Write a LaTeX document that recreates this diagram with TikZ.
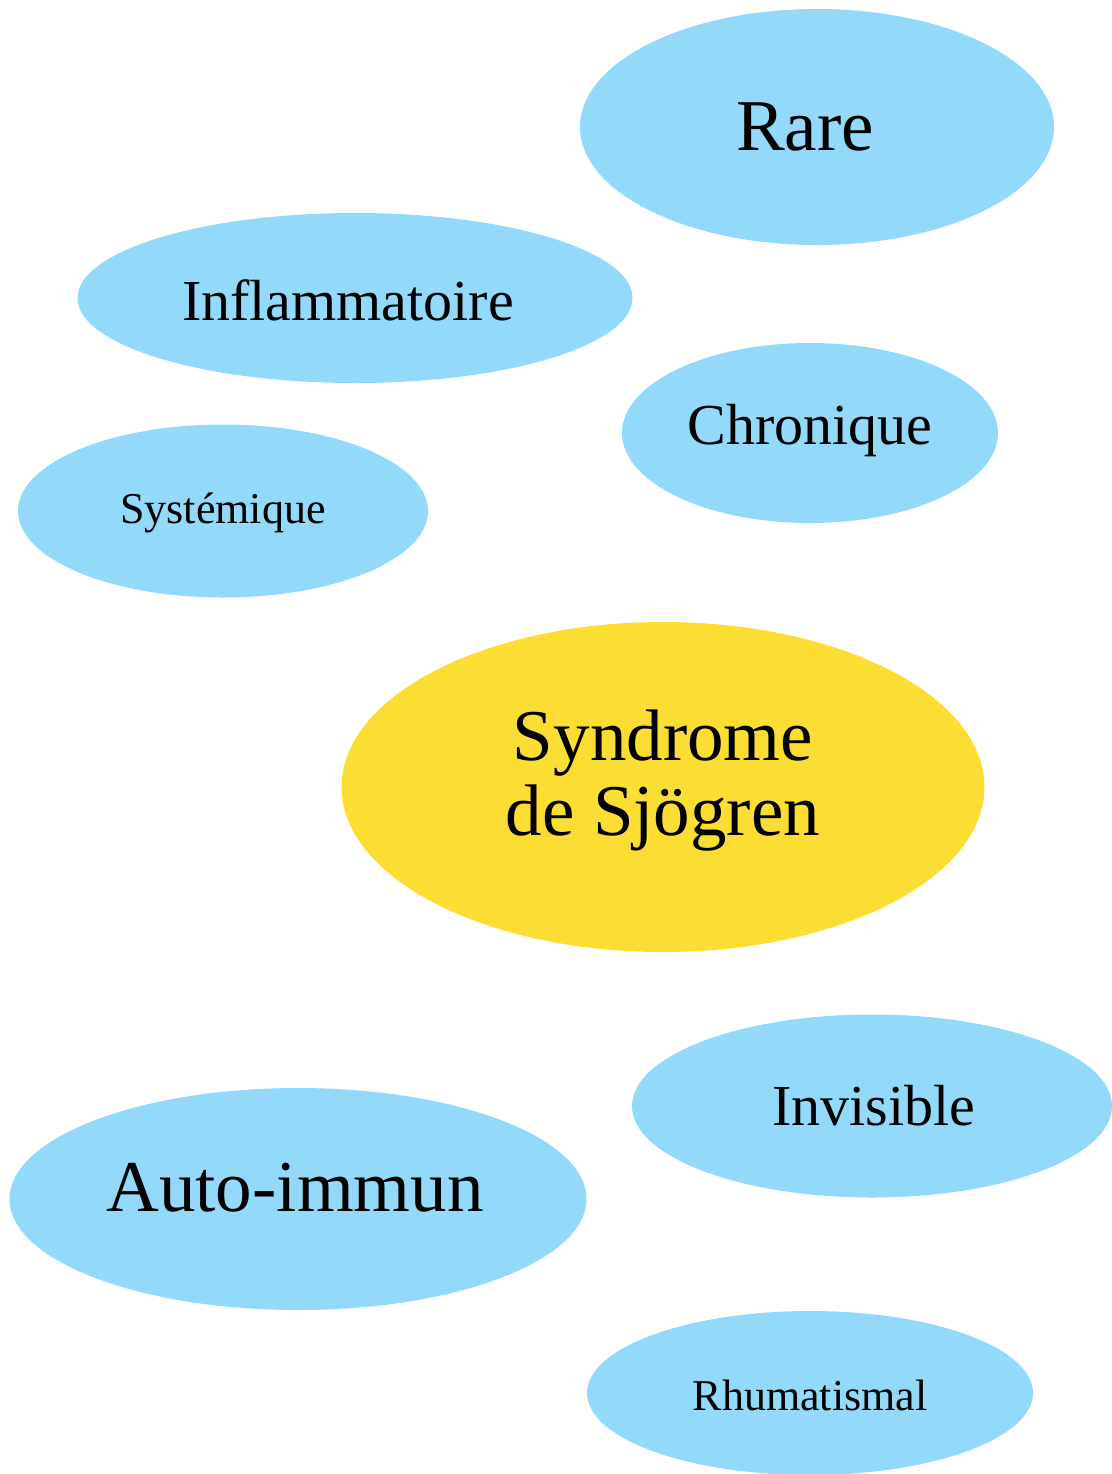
\documentclass[tikz,border=0pt]{standalone}
\usepackage{fontspec}
\setmainfont{Liberation Serif}
\usetikzlibrary{shapes.geometric}
\definecolor{bulleblue}{HTML}{93D9FA}
\definecolor{coeuryellow}{HTML}{FCDD33}
\newcommand{\grandtxt}{\fontsize{36.5}{37.5}\selectfont}
\newcommand{\moyentxt}{\fontsize{29}{30}\selectfont}
\newcommand{\petittxt}{\fontsize{22}{23}\selectfont}

\begin{document}
\begin{tikzpicture}[x=0.5pt, y=-0.5pt,
    bulle/.style={ellipse, fill=bulleblue, draw=none, inner sep=0pt},
    coeur/.style={bulle, fill=coeuryellow},
    mot/.style={text=black, align=center, inner sep=0pt}]
  \useasboundingbox (0,0) rectangle (1112,1474);

  % Rare
  \node[bulle, minimum width=237pt, minimum height=118pt,
    label={[mot, font=\grandtxt, xshift=-6pt]center:Rare}] (rare) at (817,127) {};

  % Inflammatoire
  \node[bulle, minimum width=277.5pt, minimum height=85pt,
    label={[mot, font=\moyentxt, xshift=-3.5pt, yshift=-1pt]center:Inflammatoire}] (inflam) at (355,298) {};

  % Chronique
  \node[bulle, minimum width=188pt, minimum height=90pt,
    label={[mot, font=\moyentxt, yshift=1pt]center:Chronique}] (chron) at (810,433) {};

  % Systemique
  \node[bulle, minimum width=205pt, minimum height=86.5pt,
    label={[mot, font=\petittxt, yshift=-1pt]center:Systémique}] (syst) at (223,511) {};

  % Syndrome de Sjogren (centre)
  \node[coeur, minimum width=321.5pt, minimum height=165pt,
    label={[mot, font=\grandtxt, yshift=3pt]center:Syndrome\\de Sjögren}] (sjogren) at (663,787) {};

  % Invisible
  \node[bulle, minimum width=240pt, minimum height=91.5pt,
    label={[mot, font=\moyentxt, xshift=1pt]center:Invisible}] (invis) at (872,1106) {};

  % Auto-immun
  \node[bulle, minimum width=288.5pt, minimum height=111pt,
    label={[mot, font=\grandtxt, xshift=-1.5pt, yshift=5.5pt]center:Auto-immun}] (auto) at (298,1199) {};

  % Rhumatismal
  \node[bulle, minimum width=223pt, minimum height=82pt,
    label={[mot, font=\petittxt, yshift=-1pt]center:Rhumatismal}] (rhum) at (810,1393) {};
\end{tikzpicture}
\end{document}
